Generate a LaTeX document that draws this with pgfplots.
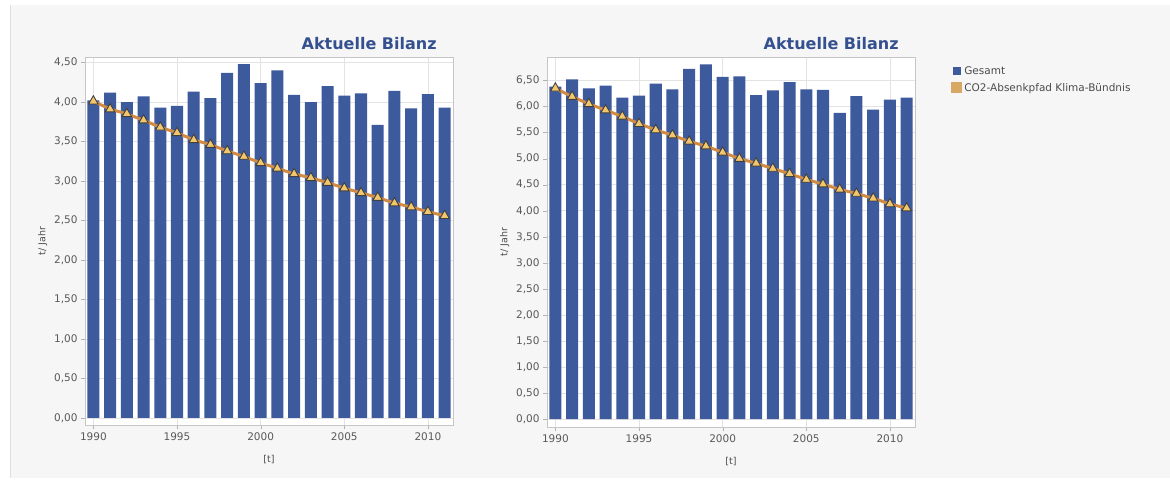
\documentclass[border=0pt]{standalone}
\usepackage{pgfplots}
\pgfplotsset{compat=1.18}
\usepackage{fontspec}
\setmainfont{DejaVu Sans}
\definecolor{barblue}{HTML}{3D5A9C}
\definecolor{pathorange}{HTML}{D08B45}
\definecolor{markfill}{HTML}{F2C66A}
\definecolor{titleblue}{HTML}{34508F}
\definecolor{legtan}{HTML}{D9A865}
\definecolor{panel}{HTML}{F6F6F6}

\pgfplotstableread{
year gesamt pfad
1990 4.02 4.01
1991 4.12 3.91
1992 4.00 3.85
1993 4.07 3.77
1994 3.93 3.68
1995 3.95 3.61
1996 4.13 3.52
1997 4.05 3.46
1998 4.37 3.38
1999 4.48 3.31
2000 4.24 3.23
2001 4.40 3.16
2002 4.09 3.09
2003 4.00 3.04
2004 4.20 2.98
2005 4.08 2.91
2006 4.11 2.85
2007 3.71 2.79
2008 4.14 2.72
2009 3.92 2.67
2010 4.10 2.61
2011 3.93 2.56
}\leftdata

\pgfplotstableread{
year gesamt pfad
1990 6.38 6.35
1991 6.52 6.19
1992 6.35 6.05
1993 6.40 5.93
1994 6.17 5.81
1995 6.21 5.67
1996 6.44 5.55
1997 6.33 5.45
1998 6.72 5.33
1999 6.81 5.24
2000 6.57 5.12
2001 6.58 5.00
2002 6.22 4.91
2003 6.31 4.81
2004 6.47 4.71
2005 6.33 4.60
2006 6.32 4.51
2007 5.88 4.41
2008 6.20 4.33
2009 5.94 4.24
2010 6.13 4.13
2011 6.17 4.05
}\rightdata

\pgfplotsset{
  bilanz/.style={
    scale only axis,
    width=368pt,
    axis background/.style={fill=white},
    xmin=1989.5, xmax=2011.5,
    xtick={1990,1995,2000,2005,2010},
    xticklabel style={/pgf/number format/1000 sep={}},
    yticklabel style={/pgf/number format/.cd, fixed, fixed zerofill, precision=2, use comma},
    /pgf/number format/assume math mode=true,
    tick label style={font=\fontsize{10.5}{12}\selectfont, text=black!65},
    label style={font=\fontsize{9.5}{11}\selectfont, text=black!70},
    xlabel style={yshift=-8pt},
    grid=major,
    major grid style={gray!22, line width=0.6pt},
    axis line style={gray!45},
    tick align=outside,
    major tick length=4pt,
    tick style={gray!60},
    xtick pos=bottom, ytick pos=left,
    xlabel={[t]},
    ylabel={t/ Jahr},
    title={Aktuelle Bilanz},
    title style={at={(0.965,1)}, anchor=south east, yshift=-2pt,
      font=\fontsize{16}{18}\selectfont\bfseries, text=titleblue},
  },
  barsty/.style={ybar, bar width=0.72, fill=barblue, draw=none, bar shift=0pt,
    legend image code/.code={\fill[barblue] (0pt,-4pt) rectangle (8pt,4pt);}},
  linesty/.style={color=pathorange, line width=3pt, mark=triangle*,
    mark size=5.5pt, mark options={fill=markfill, draw=black!75, line width=0.9pt},
    legend image code/.code={\fill[legtan] (0pt,-4pt) rectangle (8pt,4pt);}},
}

\begin{document}
\begin{tikzpicture}[x=1pt,y=1pt]
\path[use as bounding box] (0,0) rectangle (1170,485);
\fill[panel] (10,7) rectangle (1170,480);
\draw[gray!25] (10,7) -- (10,480);

\begin{axis}[bilanz, at={(85pt,60pt)}, anchor=south west, height=368pt,
  ymin=-0.09, ymax=4.57, ytick={0,0.5,...,4.5}]
\addplot[barsty] table[x=year,y=gesamt] {\leftdata};
\addplot[linesty] table[x=year,y=pfad] {\leftdata};
\end{axis}

\begin{axis}[bilanz, at={(547pt,58pt)}, anchor=south west, height=370pt,
  ymin=-0.15, ymax=6.95, ytick={0,0.5,...,6.5},
  legend style={at={(1.09,0.985)}, anchor=north west, draw=none, fill=none,
    font=\fontsize{10.5}{12}\selectfont, text=black!70, row sep=3pt,
    /tikz/every even column/.append style={column sep=6pt}},
  legend cell align=left]
\addplot[barsty] table[x=year,y=gesamt] {\rightdata};
\addlegendentry{Gesamt}
\addplot[linesty] table[x=year,y=pfad] {\rightdata};
\addlegendentry{CO2-Absenkpfad Klima-Bündnis}
\end{axis}
\end{tikzpicture}
\end{document}
